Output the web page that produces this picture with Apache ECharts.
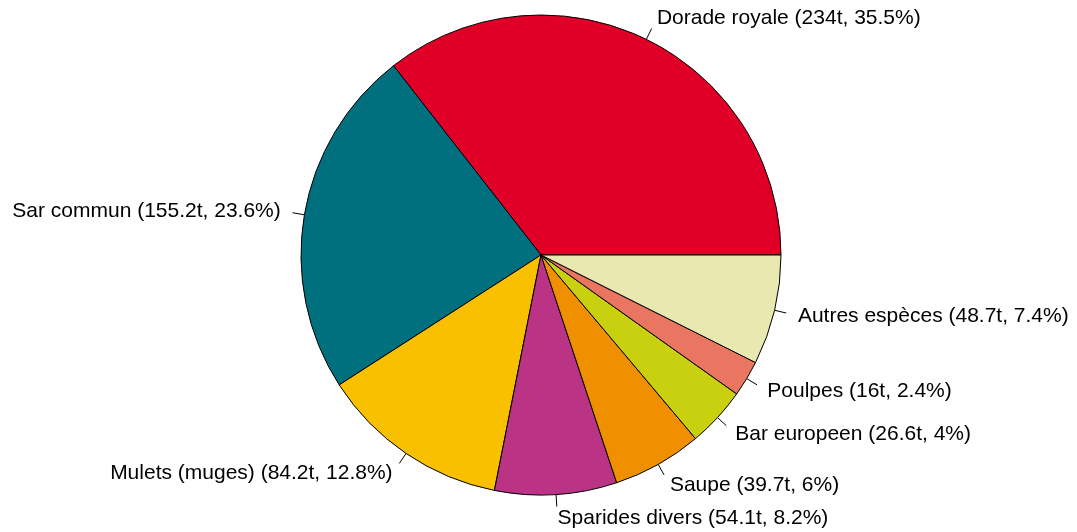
<!DOCTYPE html>
<html><head><meta charset="utf-8">
<script src="https://cdn.jsdelivr.net/npm/echarts@6/dist/echarts.min.js"></script>
<style>html,body{margin:0;padding:0;background:#fff}#c{width:1077px;height:532px}</style>
</head><body><div id="c"></div>
<script>
const species = ["Dorade royale","Sar commun","Mulets (muges)","Sparides divers","Saupe","Bar europeen","Poulpes","Autres espèces"];
const tonnes = [234,155.2,84.2,54.1,39.7,26.6,16,48.7];
const colors = ["#E00027","#00707F","#F9C000","#BA3385","#F09000","#C8D010","#EA7560","#E8E8B0"];
const total = tonnes.reduce((a,b)=>a+b,0);
const chart = echarts.init(document.getElementById('c'));
chart.setOption({
  animation:false,
  series:[{
    type:'pie',
    center:[541,255],
    radius:[0,240],
    startAngle:0,
    clockwise:false,
    avoidLabelOverlap:false,
    minShowLabelAngle:0,
    itemStyle:{borderColor:'#000',borderWidth:1},
    emphasis:{disabled:true},
    label:{
      show:true,position:'outside',color:'#000',
      fontFamily:'Liberation Sans, Arial, sans-serif',fontSize:21,
      formatter:p=>{
        const pct=Math.round(p.value/total*1000)/10;
        return p.name+' ('+p.value+'t, '+pct+'%)';
      }
    },
    labelLine:{show:true,length:12,length2:0,lineStyle:{color:'#000',width:1}},
    labelLayout:function(params){
      const pts=params.labelLinePoints;
      if(!pts) return {};
      const p0=pts[0], p1=pts[1];
      const dx=p1[0]-p0[0], dy=p1[1]-p0[1];
      const len=Math.sqrt(dx*dx+dy*dy)||1;
      const ax=p0[0]+dx/len*24, ay=p0[1]+dy/len*24;
      return {
        x:ax, y:ay,
        align: dx>=0?'left':'right',
        verticalAlign:'middle',
        labelLinePoints:[p0,p1,p1]
      };
    },
    data:species.map((s,i)=>({name:s,value:tonnes[i],itemStyle:{color:colors[i]}}))
  }]
});
</script></body></html>
